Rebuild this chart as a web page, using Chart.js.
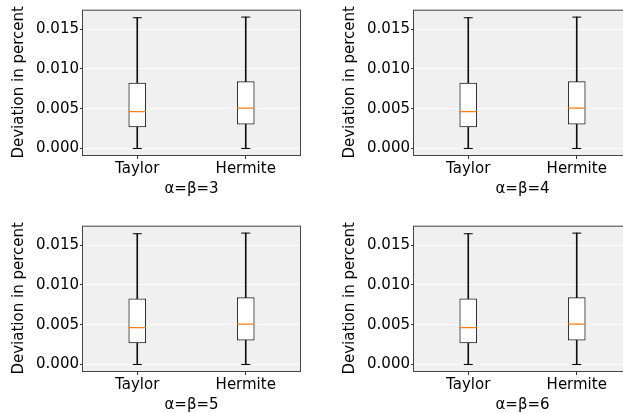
<!DOCTYPE html>
<html>
<head>
<meta charset="utf-8">
<script src="https://cdn.jsdelivr.net/npm/chart.js@4/dist/chart.umd.min.js"></script>
<style>
  html, body { margin: 0; padding: 0; overflow: hidden; background: #fff; width: 623px; height: 413px; }
  .panel { position: absolute; }
</style>
</head>
<body>
<div class="panel" style="left:0;top:0"><canvas id="c0" width="310" height="198"></canvas></div>
<div class="panel" style="left:331px;top:0"><canvas id="c1" width="310" height="198"></canvas></div>
<div class="panel" style="left:0;top:216px"><canvas id="c2" width="310" height="198"></canvas></div>
<div class="panel" style="left:331px;top:216px"><canvas id="c3" width="310" height="198"></canvas></div>
<script>
// Données (une ligne par sous-graphe, [Taylor, Hermite])
const categories = ["Taylor", "Hermite"];
const panelTitles = ["α=β=3", "α=β=4", "α=β=5", "α=β=6"];
const whiskerLow = [[0, 0], [0, 0], [0, 0], [0, 0]];
const q1 = [[0.00271, 0.00304], [0.00271, 0.00304], [0.00272, 0.00304], [0.00272, 0.00304]];
const medians = [[0.00462, 0.00506], [0.00462, 0.00506], [0.00462, 0.00506], [0.00462, 0.00506]];
const q3 = [[0.00822, 0.00839], [0.00822, 0.00839], [0.00824, 0.00840], [0.00824, 0.00840]];
const whiskerHigh = [[0.01642, 0.0165], [0.01642, 0.0165], [0.01642, 0.0165], [0.01642, 0.0165]];
const yTicks = [0, 0.005, 0.01, 0.015];
const yMin = -0.00082;
const yMax = 0.01743;

const font = { family: "'DejaVu Sans'", size: 15 };

// Fond gris et cadre autour de la zone de tracé
const framePlugin = {
  id: "frame",
  beforeDraw(chart) {
    const { ctx, chartArea: a } = chart;
    ctx.save();
    ctx.fillStyle = "#f0f0f0";
    ctx.fillRect(a.left, a.top, a.right - a.left, a.bottom - a.top);
    ctx.restore();
  },
  afterDraw(chart) {
    const { ctx, chartArea: a } = chart;
    ctx.save();
    ctx.strokeStyle = "#444";
    ctx.lineWidth = 1;
    ctx.strokeRect(a.left - 0.5, a.top + 0.5, a.right - a.left + 1, a.bottom - a.top);
    ctx.restore();
  },
};

function makeBoxChart(i) {
  const pair = (lo, hi) => lo[i].map((v, j) => [v, hi[i][j]]);
  new Chart(document.getElementById("c" + i), {
    type: "bar",
    data: {
      labels: categories,
      datasets: [
        {
          type: "line",
          data: medians[i],
          showLine: false,
          pointStyle: "line",
          pointRadius: 8.5,
          pointBorderWidth: 1.2,
          borderColor: "#ff7f0e",
          order: 0,
        },
        {
          type: "line",
          data: whiskerHigh[i],
          showLine: false,
          pointStyle: "line",
          pointRadius: 4.5,
          pointBorderWidth: 1,
          borderColor: "#000",
          order: 1,
        },
        {
          type: "line",
          data: whiskerLow[i],
          showLine: false,
          pointStyle: "line",
          pointRadius: 4.5,
          pointBorderWidth: 1,
          borderColor: "#000",
          order: 1,
        },
        {
          data: pair(q1, q3),
          backgroundColor: "#fff",
          borderColor: "#222",
          borderWidth: 1,
          borderSkipped: false,
          barThickness: 17,
          grouped: false,
          order: 2,
        },
        {
          data: pair(whiskerLow, q1),
          backgroundColor: "#111",
          borderWidth: 0,
          barThickness: 1,
          grouped: false,
          order: 3,
        },
        {
          data: pair(q3, whiskerHigh),
          backgroundColor: "#111",
          borderWidth: 0,
          barThickness: 1,
          grouped: false,
          order: 3,
        },
      ],
    },
    options: {
      responsive: false,
      animation: false,
      events: [],
      layout: { padding: { top: 5, right: 10, left: 0, bottom: 0 } },
      plugins: { legend: { display: false }, tooltip: { enabled: false } },
      scales: {
        x: {
          offset: true,
          grid: { offset: false, drawOnChartArea: false, tickColor: "#333", tickLength: 4 },
          border: { display: false },
          ticks: { font, color: "#000", padding: 1, maxRotation: 0 },
          title: { display: true, text: panelTitles[i], font, color: "#000", padding: 0 },
          afterFit(s) {
            s.height = 43;
            s.paddingLeft = 0;
            s.paddingRight = 0;
          },
        },
        y: {
          min: yMin,
          max: yMax,
          grid: { color: "#fff", lineWidth: 1, tickColor: "#333", tickLength: 3 },
          border: { display: false },
          ticks: { font, color: "#000", padding: 1, callback: (v) => v.toFixed(3) },
          afterBuildTicks(s) {
            s.ticks = yTicks.map((v) => ({ value: v }));
          },
          title: { display: true, text: "Deviation in percent", font, color: "#000", padding: { top: 10, bottom: 0 } },
          afterFit(s) {
            s.width = 83;
            s.paddingTop = 0;
            s.paddingBottom = 0;
          },
        },
      },
    },
    plugins: [framePlugin],
  });
}

document.addEventListener("DOMContentLoaded", () => {
  panelTitles.forEach((t, i) => makeBoxChart(i));
});
</script>
</body>
</html>
